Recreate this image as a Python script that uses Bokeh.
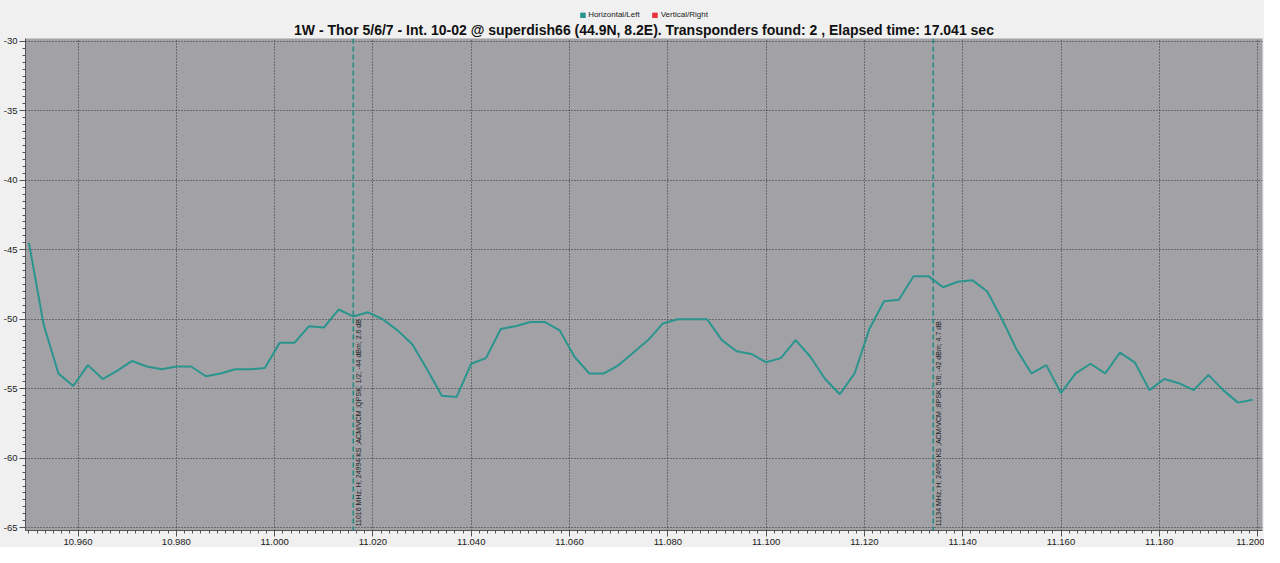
import math
from bokeh.plotting import figure
from bokeh.layouts import column
from bokeh.embed import file_html
from bokeh.resources import INLINE
from bokeh.core.properties import value
from bokeh.models import (Legend, LegendItem, Span, Title, SingleIntervalTicker,
                          NumeralTickFormatter, PrintfTickFormatter, ColumnDataSource, Range1d)

# ---- data ----
freq_ghz = [10.950, 10.953, 10.956, 10.959, 10.962, 10.965, 10.968, 10.971, 10.974, 10.977,
            10.980, 10.983, 10.986, 10.989, 10.992, 10.995, 10.998, 11.001, 11.004, 11.007,
            11.010, 11.013, 11.016, 11.019, 11.022, 11.025, 11.028, 11.031, 11.034, 11.037,
            11.040, 11.043, 11.046, 11.049, 11.052, 11.055, 11.058, 11.061, 11.064, 11.067,
            11.070, 11.073, 11.076, 11.079, 11.082, 11.085, 11.088, 11.091, 11.094, 11.097,
            11.100, 11.103, 11.106, 11.109, 11.112, 11.115, 11.118, 11.121, 11.124, 11.127,
            11.130, 11.133, 11.136, 11.139, 11.142, 11.145, 11.148, 11.151, 11.154, 11.157,
            11.160, 11.163, 11.166, 11.169, 11.172, 11.175, 11.178, 11.181, 11.184, 11.187,
            11.190, 11.193, 11.196, 11.199]
level_h = [-44.5, -50.4, -53.9, -54.8, -53.3, -54.3, -53.7, -53.0, -53.4, -53.6,
           -53.4, -53.4, -54.1, -53.9, -53.6, -53.6, -53.5, -51.7, -51.7, -50.5,
           -50.6, -49.3, -49.8, -49.5, -50.0, -50.8, -51.8, -53.6, -55.5, -55.6,
           -53.2, -52.8, -50.7, -50.5, -50.2, -50.2, -50.8, -52.7, -53.9, -53.9,
           -53.3, -52.4, -51.5, -50.3, -50.0, -50.0, -50.0, -51.5, -52.3, -52.5,
           -53.1, -52.8, -51.5, -52.7, -54.3, -55.4, -53.9, -50.7, -48.7, -48.6,
           -46.9, -46.9, -47.7, -47.3, -47.2, -48.0, -50.0, -52.2, -53.9, -53.3,
           -55.3, -53.9, -53.2, -53.9, -52.4, -53.1, -55.1, -54.3, -54.6, -55.1,
           -54.0, -55.1, -56.0, -55.8]
tp_freq = [11.016, 11.134]
tp_label = ["11016 MHz; H; 24994 KS ;ACM/VCM ;QPSK; 1/2; -44 dBm; 2.6 dB",
            "11134 MHz; H; 24994 KS ;ACM/VCM ;8PSK; 5/6; -42 dBm; 4.7 dB"]
tp_label_y = [-64.9, -64.9]
series_names = ["Horizontal/Left", "Vertical/Right"]
title_text = ("1W - Thor 5/6/7 - Int. 10-02 @ superdish66 (44.9N, 8.2E). "
              "Transponders found: 2 , Elapsed time: 17.041 sec")

TEAL = "#2a958e"
RED = "#e8323c"
FONT = "Liberation Sans"
BG = "#f0f0f0"
W = 1264
LEG_H = 19

src = ColumnDataSource(dict(x=freq_ghz, y=level_h))

# ---- legend strip (series swatches; data lies outside this strip's 0..1 range) ----
pl = figure(width=W, height=LEG_H, output_backend="svg", toolbar_location=None,
            x_axis_type=None, y_axis_type=None, x_range=Range1d(0, 1), y_range=Range1d(0, 1),
            background_fill_color=BG, border_fill_color=BG, min_border=0)
pl.grid.visible = False
pl.outline_line_color = None
r_h = pl.quad(left="x", right="x", bottom="y", top="y", source=src,
              fill_color=TEAL, line_color=TEAL)
r_v = pl.quad(left="x", right="x", bottom="y", top="y", source=src,
              fill_color=RED, line_color=RED)
legend = Legend(items=[LegendItem(label=series_names[0], renderers=[r_h]),
                       LegendItem(label=series_names[1], renderers=[r_v])],
                orientation="horizontal", location="bottom_center",
                label_text_font=FONT, label_text_font_size="8px", label_text_color="#222222",
                glyph_width=6, glyph_height=6, label_height=8, label_standoff=3,
                padding=2, margin=0, spacing=12,
                border_line_color=None, background_fill_alpha=0)
pl.add_layout(legend, "center")

# ---- main chart ----
p = figure(width=W, height=547 - LEG_H, output_backend="svg", toolbar_location=None,
           title=None,
           x_range=Range1d(10.9493, 11.201), y_range=Range1d(-65.2, -29.8),
           background_fill_color="#a1a1a6", border_fill_color=BG,
           min_border_left=0, min_border_right=2, min_border_top=0, min_border_bottom=0)
p.outline_line_color = None

p.xaxis.ticker = SingleIntervalTicker(interval=0.02, num_minor_ticks=12)
p.xaxis.formatter = NumeralTickFormatter(format="0.000")
p.yaxis.ticker = SingleIntervalTicker(interval=5, num_minor_ticks=10)
p.yaxis.formatter = PrintfTickFormatter(format="%d")
for ax in (p.xaxis, p.yaxis):
    ax.axis_line_color = "#555555"
    ax.major_tick_line_color = "#555555"
    ax.minor_tick_line_color = "#555555"
    ax.major_tick_out = 6
    ax.major_tick_in = 0
    ax.minor_tick_out = 3
    ax.minor_tick_in = 0
    ax.major_label_text_font = FONT
    ax.major_label_text_font_size = "9.5px"
    ax.major_label_text_color = "#222222"
    ax.major_label_standoff = 2

p.xgrid.ticker = p.xaxis.ticker
p.ygrid.ticker = p.yaxis.ticker
for g in (p.xgrid, p.ygrid):
    g.grid_line_color = "#333333"
    g.grid_line_dash = "1 2"
    g.grid_line_width = 1

p.line("x", "y", source=src, line_color=TEAL, line_width=2)

for f in tp_freq:
    p.add_layout(Span(location=f, dimension="height", line_color="#1f8c84",
                      line_dash="5 3", line_width=1.5))
tsrc = ColumnDataSource(dict(x=tp_freq, y=tp_label_y, t=tp_label))
p.text("x", "y", text="t", source=tsrc, angle=math.pi / 2, text_align="left",
       text_baseline="top", x_offset=2, text_font=value(FONT),
       text_font_size="7px", text_color="#222222")

title = Title(text=title_text, align="center", text_font=FONT, text_font_size="14px",
              text_font_style="bold", text_color="#111111", standoff=1, offset=0)
p.add_layout(title, "above")

layout = column(pl, p, spacing=0, styles={"background-color": BG})
open("out.html", "w").write(file_html(layout, INLINE))
